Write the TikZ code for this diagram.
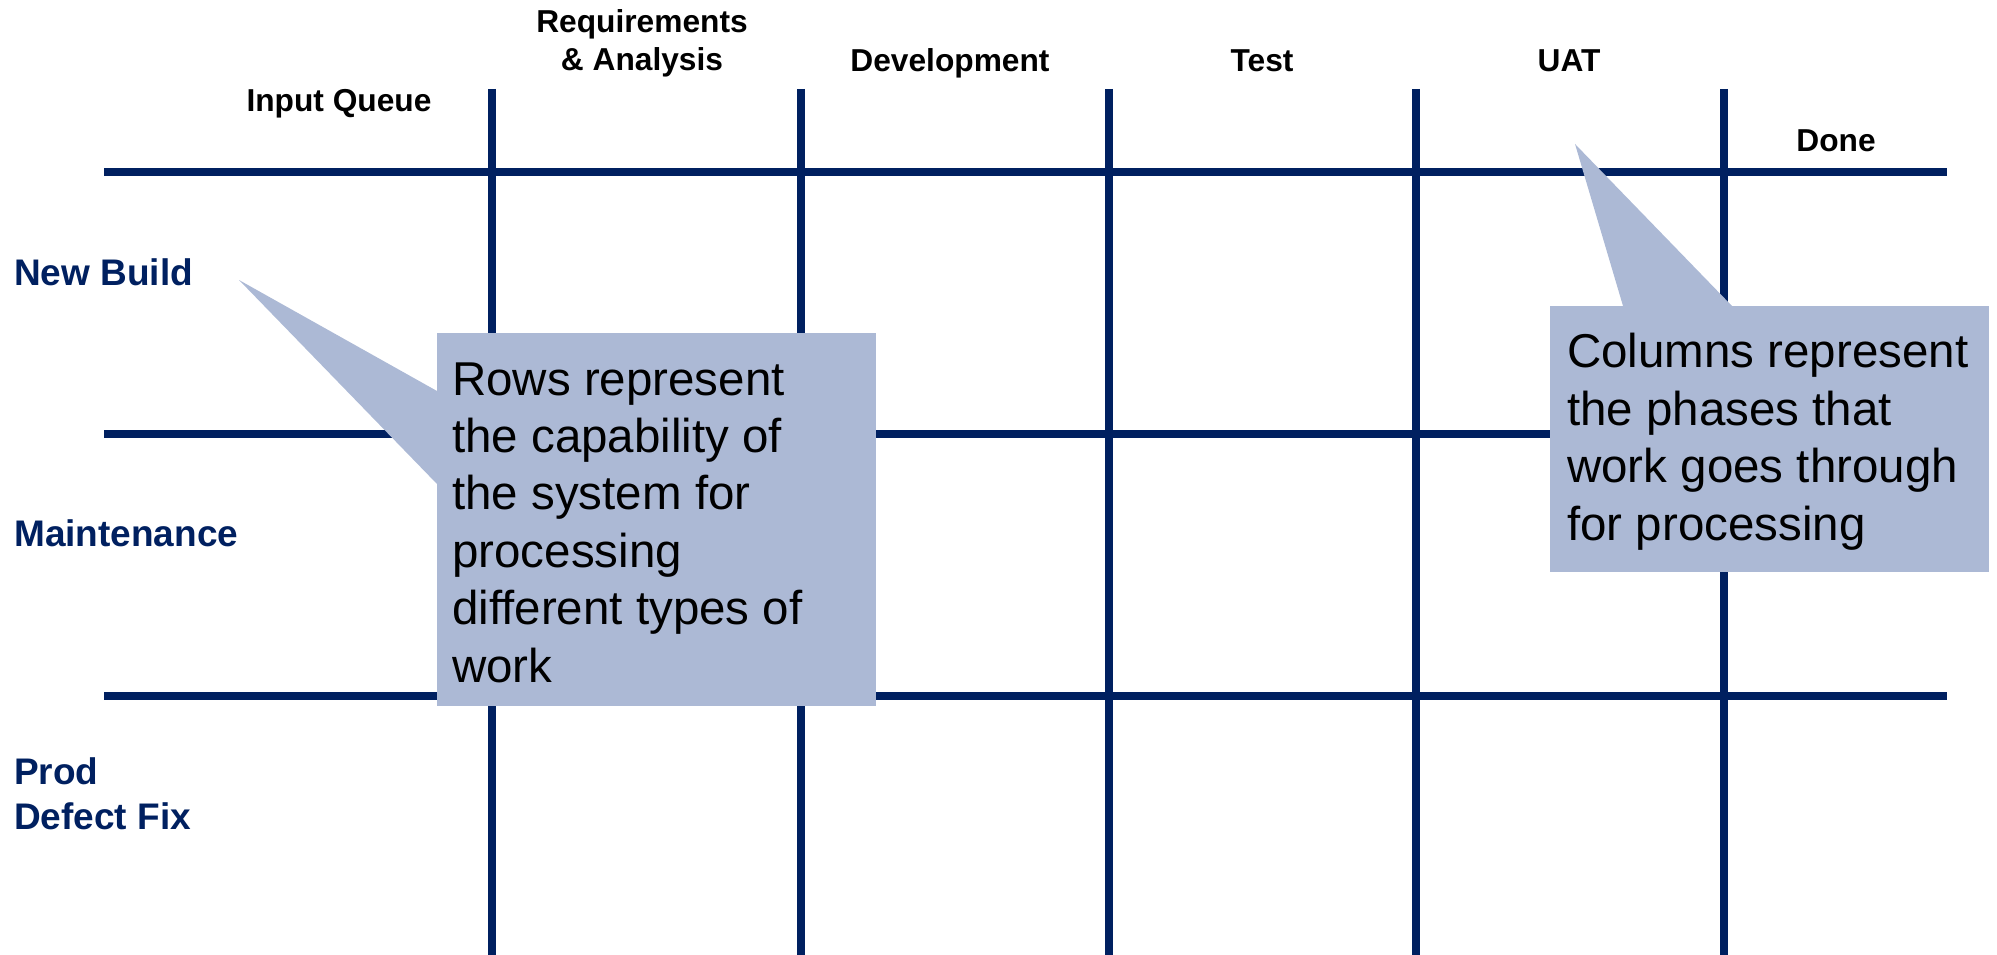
\documentclass[tikz,border=0pt]{standalone}
\usepackage{fontspec}
\setmainfont{Liberation Sans}
\definecolor{navy}{RGB}{0,32,96}
\definecolor{callfill}{RGB}{172,185,213}
\begin{document}
\begin{tikzpicture}[x=1pt,y=-1pt,
  grid/.style={draw=navy,line width=7.5pt},
  colhead/.style={anchor=base,inner sep=0pt,align=center,text=black,font=\fontsize{31.7}{38}\selectfont\bfseries},
  rowhead/.style={anchor=base west,inner sep=0pt,align=left,text=navy,font=\fontsize{37}{45}\selectfont\bfseries},
  callout/.style={fill=callfill,draw=none},
  calltext/.style={anchor=base west,inner sep=0pt,align=left,text=black,font=\fontsize{47.5}{57.4}\selectfont}]
\useasboundingbox (0,0) rectangle (1997,955);
% grid lines
\foreach \x in {492,801,1109,1416,1724}{
  \draw[grid] (\x,89) -- (\x,955);
}
\foreach \y in {172,434,696}{
  \draw[grid] (104,\y) -- (1947,\y);
}
% column headers (multi-line nodes: anchor on last baseline)
\node[colhead] (iq) at (339,112) {Input Queue};
\node[colhead] (ra) at (642,71) {Requirements\\\& Analysis};
\node[colhead] (dev) at (950,72) {Development};
\node[colhead] (test) at (1262,72) {Test};
\node[colhead] (uat) at (1569,72) {UAT};
\node[colhead] (done) at (1836,152) {Done};
% row headers
\node[rowhead] (nb) at (14,285) {New Build};
\node[rowhead] (mt) at (14,546) {Maintenance};
\node[rowhead] (pd) at (14,829) {Prod\\Defect Fix};
% left callout
\coordinate (ltip) at (239,280);
\fill[callout] (ltip) -- (437,391) -- (437,484) -- cycle;
\fill[callout] (437,333) rectangle (876,706);
\node[calltext] (rows) at (452,682) {Rows represent\\the capability of\\the system for\\processing\\different types of\\work};
% right callout
\coordinate (rtip) at (1575,144);
\fill[callout] (rtip) -- (1623,306) -- (1732,306) -- cycle;
\fill[callout] (1550,306) rectangle (1989,572);
\node[calltext] (cols) at (1567,540) {Columns represent\\the phases that\\work goes through\\for processing};
\end{tikzpicture}
\end{document}
